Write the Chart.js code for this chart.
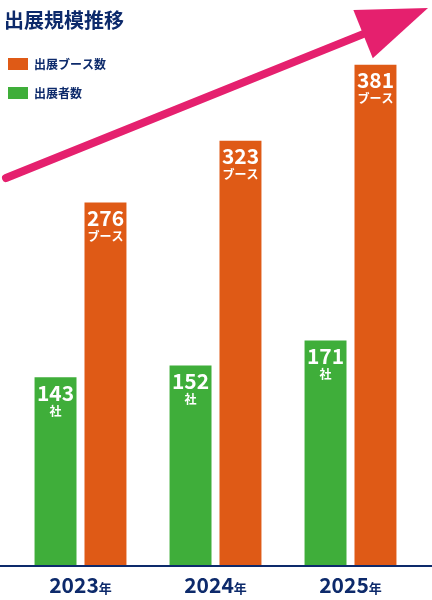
<!DOCTYPE html>
<html><head><meta charset="utf-8">
<script src="https://cdn.jsdelivr.net/npm/chart.js@4"></script>
<style>html,body{margin:0;background:#fff}#wrap{width:432px;height:600px;position:relative}</style>
</head><body><div id="wrap"><canvas id="c"></canvas></div>
<script>
const years = ['2023', '2024', '2025'];
const exhibitors = [143, 152, 171];
const booths = [276, 323, 381];
const NAVY = '#0d2a6b', GREEN = '#3fae3a', ORANGE = '#df5a16', PINK = '#e5206e';
const FONT = '"Noto Sans CJK JP", "Noto Sans", sans-serif';

const deco = {
    id: 'deco',
    beforeDatasetsDraw(chart) {
        const ctx = chart.ctx;
        // arrow
        ctx.save();
        const x0 = 6, y0 = 178, x1 = 428, y1 = 8;
        const ang = Math.atan2(y1 - y0, x1 - x0);
        const hl = 70, hw = 26;
        const bx = x1 - hl * Math.cos(ang), by = y1 - hl * Math.sin(ang);
        ctx.strokeStyle = PINK; ctx.lineWidth = 8; ctx.lineCap = 'round';
        ctx.beginPath(); ctx.moveTo(x0, y0); ctx.lineTo(bx, by); ctx.stroke();
        ctx.fillStyle = PINK; ctx.beginPath();
        ctx.moveTo(x1, y1);
        ctx.lineTo(bx + hw * Math.sin(ang), by - hw * Math.cos(ang));
        ctx.lineTo(bx - hw * Math.sin(ang), by + hw * Math.cos(ang));
        ctx.closePath(); ctx.fill();
        // title + legend
        ctx.fillStyle = NAVY; ctx.font = 'bold 20px ' + FONT; ctx.textBaseline = 'middle';
        ctx.fillText('出展規模推移', 4, 20);
        ctx.fillStyle = ORANGE; ctx.fillRect(8, 58, 20, 12);
        ctx.fillStyle = GREEN; ctx.fillRect(8, 87, 20, 12);
        ctx.fillStyle = NAVY; ctx.font = 'bold 12px ' + FONT;
        ctx.fillText(chart.data.datasets[1].label, 34, 64);
        ctx.fillText(chart.data.datasets[0].label, 34, 93);
        ctx.restore();
    },
    afterDatasetsDraw(chart) {
        const ctx = chart.ctx;
        ctx.save();
        ctx.textAlign = 'center'; ctx.textBaseline = 'top'; ctx.fillStyle = '#fff';
        chart.data.datasets.forEach((ds, i) => {
            chart.getDatasetMeta(i).data.forEach((bar, j) => {
                ctx.font = 'bold 21px ' + FONT;
                ctx.fillText(String(ds.data[j]), bar.x, bar.y + 5);
                ctx.font = 'bold 12px ' + FONT;
                ctx.fillText(ds.unit, bar.x, bar.y + 28);
            });
        });
        const xs = chart.scales.x, base = chart.scales.y.bottom;
        ctx.fillStyle = NAVY; ctx.fillRect(0, base, chart.width, 2);
        ctx.textBaseline = 'alphabetic'; ctx.textAlign = 'left';
        chart.data.labels.forEach((lab, j) => {
            const cx = xs.getPixelForValue(j);
            ctx.font = 'bold 21px ' + FONT; const w1 = ctx.measureText(lab).width;
            ctx.font = 'bold 13px ' + FONT; const w2 = ctx.measureText('年').width;
            const sx = cx - (w1 + w2) / 2;
            ctx.font = 'bold 21px ' + FONT; ctx.fillText(lab, sx, base + 28);
            ctx.font = 'bold 13px ' + FONT; ctx.fillText('年', sx + w1, base + 28);
        });
        ctx.restore();
    }
};

new Chart(document.getElementById('c'), {
    type: 'bar',
    data: {
        labels: years,
        datasets: [
            { label: '出展者数', unit: '社', data: exhibitors, backgroundColor: GREEN },
            { label: '出展ブース数', unit: 'ブース', data: booths, backgroundColor: ORANGE }
        ]
    },
    options: {
        responsive: true, maintainAspectRatio: false, animation: false,
        layout: { padding: { left: 13, right: 14, top: 20, bottom: 35 } },
        datasets: { bar: { categoryPercentage: 0.74, barPercentage: 0.84 } },
        plugins: { legend: { display: false }, tooltip: { enabled: false } },
        scales: {
            x: { display: false },
            y: { display: false, min: 0, max: 415 }
        }
    },
    plugins: [deco]
});
</script></body></html>
